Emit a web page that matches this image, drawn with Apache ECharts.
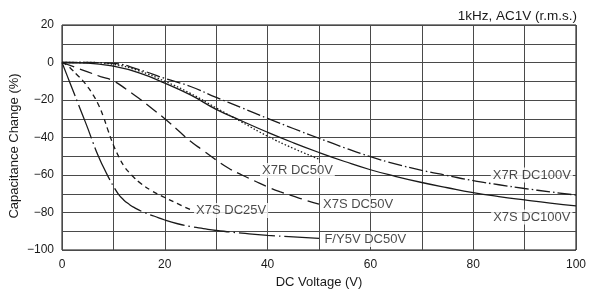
<!DOCTYPE html>
<html>
<head>
<meta charset="utf-8">
<title>Capacitance Change vs DC Voltage</title>
<script src="https://cdn.jsdelivr.net/npm/echarts@6/dist/echarts.min.js"></script>
<style>
  html, body { margin: 0; padding: 0; background: #fff; }
  #chartWrapper { width: 589px; height: 295px; }
</style>
</head>
<body>
<div id="chartWrapper"></div>
<script>
// 读图得到的数据 (DC voltage V / capacitance change %)
var x7r100V = [0, 5, 10, 15, 20, 25, 30, 35, 40, 45, 50, 55, 60, 65, 70, 75, 80, 85, 90, 95, 100];
var x7r100C = [0, 0, -0.5, -3.8, -8.5, -12.8, -18.6, -24.2, -29.8, -35.2, -40.4, -45.5, -50.2, -54.2, -57.5, -60.3, -63, -65.2, -67.2, -69, -70.7];

var x7s100V = [0, 5, 10, 15, 20, 25, 30, 35, 40, 45, 50, 55, 60, 65, 70, 75, 80, 85, 90, 95, 100];
var x7s100C = [0, -0.3, -2, -5.5, -11, -17.3, -25, -31.2, -37.2, -42.8, -48, -52.8, -57.2, -60.8, -64, -66.8, -69.4, -71.5, -73.3, -75, -76.5];

var x7r50V = [0, 5, 10, 15, 20, 25, 30, 35, 40, 45, 50];
var x7r50C = [0, 0, -1, -4.5, -10, -16.5, -24.2, -31.8, -39.3, -45.8, -51.5];

var x7s50V = [0, 2.5, 5, 7.5, 10, 12.5, 15, 17.5, 20, 22.5, 25, 27.5, 30, 32.5, 35, 37.5, 40, 42.5, 45, 47.5, 50];
var x7s50C = [0, -2.5, -5, -7.5, -9.8, -14.3, -19.2, -24.5, -30, -36, -42, -47, -52, -56.5, -60, -63.2, -66.3, -69, -71.3, -73.5, -75.5];

var x7s25V = [0, 1, 2, 3, 4, 5, 6, 7, 8, 9, 10, 11, 12, 13, 14, 15, 17.5, 20, 22.5, 25];
var x7s25C = [0, -1.5, -4, -6.8, -9.5, -13, -17, -22, -28.5, -36.5, -44, -50, -55, -58.5, -61.3, -63.8, -68.5, -72, -75.3, -78.5];

var y5vV = [0, 1, 2, 3, 4, 5, 6, 7, 8, 9, 10, 11, 12, 13, 14, 16, 18, 20, 22.5, 25, 27.5, 30, 35, 40, 45, 50];
var y5vC = [0, -7, -14, -21, -28, -35, -42.5, -49.5, -55.5, -61, -66, -70.3, -73.3, -75.5, -77.3, -80, -82, -84, -86, -87.5, -88.6, -89.6, -91, -92.2, -93, -93.8];

// 曲线标注文字
var noteText = ['X7R DC50V', 'X7R DC100V', 'X7S DC50V', 'X7S DC25V', 'X7S DC100V', 'F/Y5V DC50V'];
var noteV = [45.8, 91.4, 57.6, 32.9, 91.4, 59];
var noteC = [-57.6, -60, -75.5, -78.9, -82.4, -94.4];

function pairs(xs, ys) {
    return xs.map(function (x, i) { return [x, ys[i]]; });
}

var fontFamily = '"Liberation Sans", Arial, Helvetica, sans-serif';
var ink = '#1a1a1a';

function curve(name, xs, ys, dash) {
    return {
        name: name,
        type: 'line',
        data: pairs(xs, ys),
        smooth: 0.5,
        symbol: 'none',
        silent: true,
        lineStyle: {
            color: ink,
            width: 1.3,
            type: dash
        }
    };
}

var myChart = echarts.init(document.getElementById('chartWrapper'), null, { renderer: 'canvas' });

var option = {
    animation: false,
    backgroundColor: '#fff',
    textStyle: { fontFamily: fontFamily },
    title: {
        text: '1kHz, AC1V (r.m.s.)',
        right: 12,
        top: 9,
        padding: 0,
        textStyle: {
            fontFamily: fontFamily,
            fontSize: 13.5,
            fontWeight: 'normal',
            color: ink
        }
    },
    graphic: [{
        type: 'text',
        x: 14,
        y: 146,
        rotation: Math.PI / 2,
        style: {
            text: 'Capacitance Change (%)',
            font: '13px ' + fontFamily,
            fill: ink,
            align: 'center',
            verticalAlign: 'middle'
        }
    }],
    grid: {
        show: true,
        left: 62,
        right: 13,
        top: 25,
        bottom: 45,
        borderColor: '#111',
        borderWidth: 1
    },
    xAxis: {
        type: 'value',
        min: 0,
        max: 100,
        interval: 10,
        name: 'DC Voltage (V)',
        nameLocation: 'middle',
        nameGap: 26,
        nameTextStyle: { fontFamily: fontFamily, fontSize: 13, color: ink },
        axisLine: { show: false },
        axisTick: { show: false },
        axisLabel: {
            margin: 9,
            fontSize: 12,
            color: ink,
            fontFamily: fontFamily,
            formatter: function (v) { return v % 20 === 0 ? String(v) : ''; }
        },
        splitLine: { show: true, lineStyle: { color: '#4a4a4a', width: 1 } }
    },
    yAxis: {
        type: 'value',
        min: -100,
        max: 20,
        interval: 10,
        axisLine: { show: false },
        axisTick: { show: false },
        axisLabel: {
            margin: 8,
            fontSize: 12,
            color: ink,
            fontFamily: fontFamily,
            formatter: function (v) {
                if (v % 20 !== 0) return '';
                return v < 0 ? '\u2212' + Math.abs(v) : String(v);
            }
        },
        splitLine: { show: true, lineStyle: { color: '#4a4a4a', width: 1 } }
    },
    series: [
        curve('X7R DC100V', x7r100V, x7r100C, [14, 3, 1.5, 3]),
        curve('X7S DC100V', x7s100V, x7s100C, 'solid'),
        curve('X7R DC50V', x7r50V, x7r50C, [1.5, 2]),
        curve('X7S DC50V', x7s50V, x7s50C, [13, 6]),
        curve('X7S DC25V', x7s25V, x7s25C, [5, 4]),
        curve('F/Y5V DC50V', y5vV, y5vC, [36, 4, 1.5, 4]),
        {
            name: 'notes',
            type: 'scatter',
            symbolSize: 0,
            silent: true,
            z: 5,
            data: noteText.map(function (t, i) {
                return { value: [noteV[i], noteC[i]], name: t };
            }),
            label: {
                show: true,
                position: 'inside',
                formatter: '{b}',
                fontFamily: fontFamily,
                fontSize: 13,
                color: ink,
                backgroundColor: '#fff',
                padding: [1, 2]
            }
        }
    ]
};

myChart.setOption(option);
</script>
</body>
</html>
